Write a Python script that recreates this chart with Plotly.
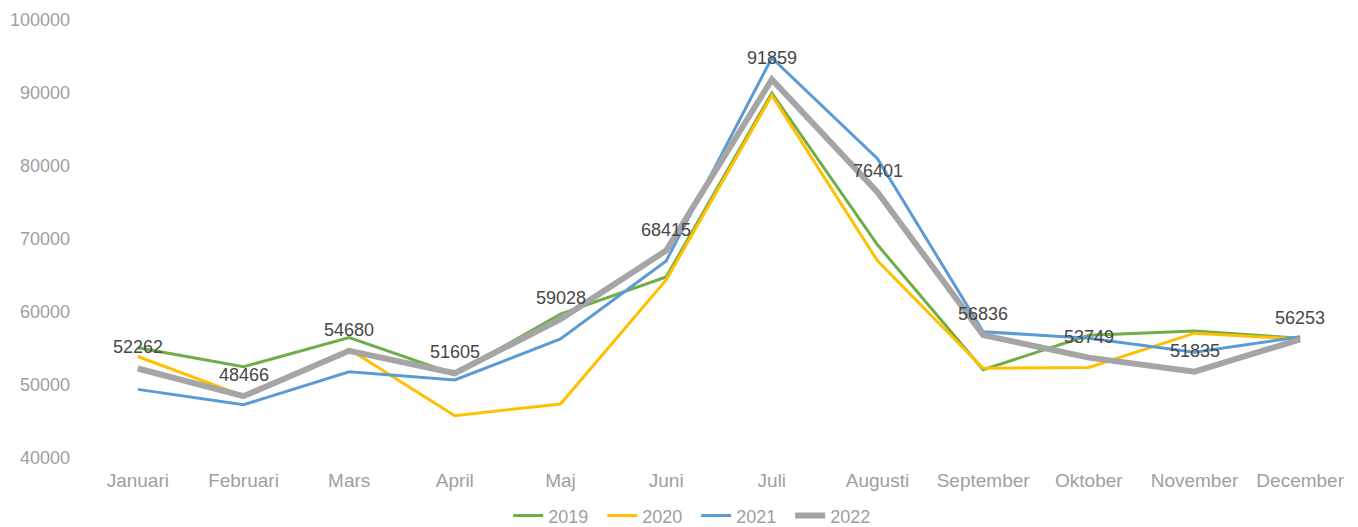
import plotly.graph_objects as go

months = ["Januari", "Februari", "Mars", "April", "Maj", "Juni", "Juli",
          "Augusti", "September", "Oktober", "November", "December"]

y2019 = [55100, 52500, 56500, 51500, 59700, 64800, 90000, 69200, 52100, 56800, 57400, 56400]
y2020 = [53900, 48500, 54900, 45800, 47400, 64400, 89700, 67000, 52300, 52400, 57100, 56300]
y2021 = [49400, 47300, 51800, 50700, 56300, 67000, 94800, 81000, 57300, 56400, 54500, 56600]
y2022 = [52262, 48466, 54680, 51605, 59028, 68415, 91859, 76401, 56836, 53749, 51835, 56253]

series = [("2019", y2019, "#70AD47", 3),
          ("2020", y2020, "#FFC000", 3),
          ("2021", y2021, "#5B9BD5", 3),
          ("2022", y2022, "#A5A5A5", 6)]

FONT = "Arial, Liberation Sans, sans-serif"

fig = go.Figure()
for name, vals, color, w in series:
    fig.add_trace(go.Scatter(x=months, y=vals, name=name, mode="lines",
                             line=dict(color=color, width=w)))

for m, v in zip(months, y2022):
    fig.add_annotation(x=m, y=v, text=str(v), showarrow=False, yshift=21,
                       font=dict(family=FONT, size=18, color="#474747"))

fig.update_layout(
    width=1358, height=527,
    margin=dict(l=77, r=13, t=12, b=77, autoexpand=False),
    paper_bgcolor="white", plot_bgcolor="white",
    font=dict(family=FONT, size=18, color="#A0A0A0"),
    showlegend=True,
    legend=dict(orientation="h", x=0.482, xanchor="center", y=-0.132, yanchor="middle",
                font=dict(size=18, color="#A0A0A0"), itemwidth=30,
                entrywidth=49, entrywidthmode="pixels"),
)
fig.update_xaxes(range=[-0.5, 11.5], automargin=False, showgrid=False, showline=False,
                 zeroline=False, tickfont=dict(size=19, color="#A0A0A0"),
                 ticklabelstandoff=9)
fig.update_yaxes(range=[40000, 100000], dtick=10000, automargin=False, showgrid=False,
                 showline=False, zeroline=False, tickformat="d",
                 tickfont=dict(size=18, color="#A0A0A0"), ticklabelstandoff=14)

fig.write_html("out.html")
